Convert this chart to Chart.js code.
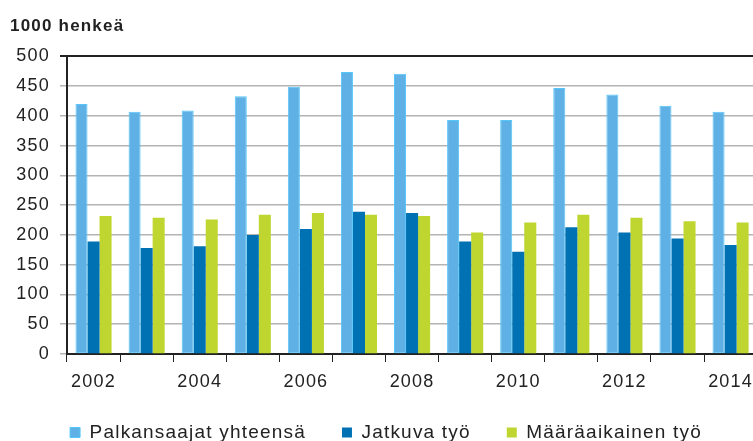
<!DOCTYPE html>
<html>
<head>
<meta charset="utf-8">
<script src="https://cdn.jsdelivr.net/npm/chart.js@4"></script>
<style>
html,body{margin:0;padding:0;overflow:hidden;background:#fff;}
#wrap{position:absolute;left:0;top:0;width:762px;height:452px;}
</style>
</head>
<body>
<div id="wrap"><canvas id="c"></canvas></div>
<script>
const years = ['2002','2003','2004','2005','2006','2007','2008','2009','2010','2011','2012','2013','2014'];
const totalEmployees = [420, 407, 409, 433, 449, 474, 471, 393, 393, 447, 436, 417, 407];
const permanentWork = [189, 178, 181, 200, 210, 239, 237, 189, 172, 213, 204, 194, 183];
const fixedTermWork = [232, 229, 226, 234, 237, 234, 232, 204, 221, 234, 229, 223, 221];
const seriesNames = ['Palkansaajat yhteensä', 'Jatkuva työ', 'Määräaikainen työ'];
const yTitle = '1000 henkeä';

const font = 'Liberation Sans, Arial, sans-serif';
Chart.defaults.font.family = font;
Chart.defaults.color = '#222';

const spacing = {
  id: 'spacing',
  beforeUpdate(chart){ chart.ctx.letterSpacing = '1.2px'; },
  beforeLayout(chart){ chart.ctx.letterSpacing = '1.2px'; },
  beforeDraw(chart){ chart.ctx.letterSpacing = '1.2px'; }
};

new Chart(document.getElementById('c'), {
  type: 'bar',
  plugins: [spacing],
  data: {
    labels: years,
    datasets: [
      {label: seriesNames[0], data: totalEmployees, backgroundColor: '#5EB0E5', borderColor: '#55C6FA', borderWidth: 1, borderSkipped: false},
      {label: seriesNames[1], data: permanentWork, backgroundColor: '#0071B3', borderColor: '#0071B3', borderWidth: 0},
      {label: seriesNames[2], data: fixedTermWork, backgroundColor: '#BFD630', borderColor: '#BFD630', borderWidth: 0}
    ]
  },
  options: {
    responsive: true,
    maintainAspectRatio: false,
    animation: false,
    layout: {padding: {left: 10, right: 0, top: 10, bottom: 0}},
    datasets: {bar: {barPercentage: 1.0, categoryPercentage: 0.68}},
    plugins: {
      title: {display: true, text: yTitle, align: 'start', font: {size: 17, weight: 'bold'}, color: '#222', padding: {top: 6, bottom: 20}},
      legend: {
        position: 'bottom',
        labels: {boxWidth: 10, boxHeight: 10, padding: 36, font: {size: 19}, color: '#222'}
      },
      tooltip: {enabled: false}
    },
    scales: {
      x: {
        offset: true,
        afterFit: function(s){ s.height = 33; },
        grid: {offset: true, drawOnChartArea: false, drawTicks: true, tickLength: 8, color: '#222', lineWidth: 1},
        border: {display: true, color: '#222', width: 2},
        ticks: {
          autoSkip: false, maxRotation: 0, padding: 9,
          font: {size: 18}, color: '#222',
          callback: function(v, i){ return i % 2 === 0 ? years[i] : ''; }
        }
      },
      y: {
        min: 0, max: 500,
        afterFit: function(s){ s.width = 57; },
        grid: {
          color: function(ctx){ return ctx.tick && ctx.tick.value === 500 ? '#222' : '#b4b4b4'; },
          lineWidth: function(ctx){ return ctx.tick && ctx.tick.value === 500 ? 2 : 1.5; },
          tickLength: 7, drawTicks: true
        },
        border: {display: true, color: '#222', width: 2},
        ticks: {stepSize: 50, padding: 10, font: {size: 18}, color: '#222'}
      }
    }
  }
});
</script>
</body>
</html>
